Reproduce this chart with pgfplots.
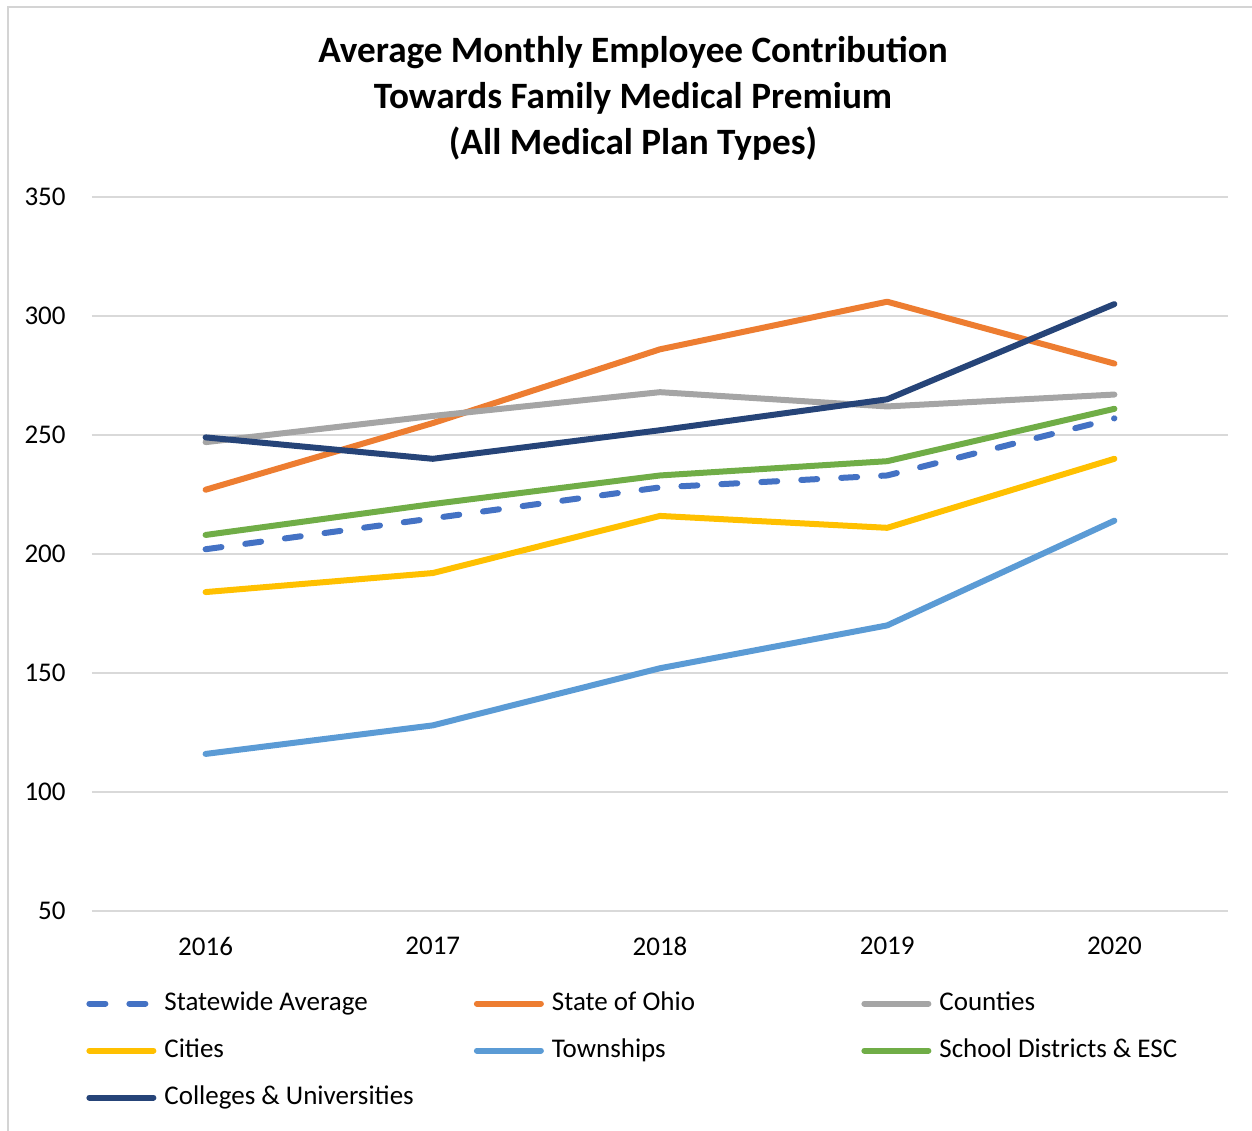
\documentclass[border=0pt]{standalone}
\usepackage{pgfplots}
\pgfplotsset{compat=1.18}
\usepackage{fontspec}
\setmainfont{Carlito}
\definecolor{cStat}{HTML}{4472C4}
\definecolor{cOhio}{HTML}{ED7D31}
\definecolor{cCounty}{HTML}{A5A5A5}
\definecolor{cCity}{HTML}{FFC000}
\definecolor{cTown}{HTML}{5B9BD5}
\definecolor{cSchool}{HTML}{70AD47}
\definecolor{cColl}{HTML}{264478}
\definecolor{gridGray}{HTML}{D9D9D9}
\definecolor{frameGray}{HTML}{D4D4D4}
\newcommand{\lab}{\fontsize{13.5pt}{16.2pt}\selectfont}
\newcommand{\ttl}{\fontsize{18.6pt}{23pt}\selectfont\bfseries}
\newcommand{\legtxt}[1]{\makebox[154.75pt][l]{\strut #1}}
\begin{document}
\begin{tikzpicture}
\useasboundingbox (-46pt,-109.5pt) rectangle (580pt,455.5pt);
\draw[color=frameGray, line width=1pt] (-42pt,-110pt) -- (-42pt,452pt) -- (581pt,452pt);
\node[anchor=base, inner sep=0pt, font=\ttl] at (270.5pt,424.25pt) {Average Monthly Employee Contribution};
\node[anchor=base, inner sep=0pt, font=\ttl] at (270.5pt,401.25pt) {Towards Family Medical Premium};
\node[anchor=base, inner sep=0pt, font=\ttl] at (270.5pt,378.25pt) {(All Medical Plan Types)};
\begin{axis}[
  scale only axis, width=568pt, height=357pt,
  xmin=-0.5, xmax=4.5, ymin=50, ymax=350,
  xtick={0,1,2,3,4}, xticklabels={2016,2017,2018,2019,2020},
  ytick={50,100,150,200,250,300,350},
  axis line style={draw=none},
  major tick length=0pt, tick style={draw=none},
  ymajorgrids, grid style={gridGray, line width=1pt},
  tick label style={font=\lab, inner sep=0pt},
  yticklabel style={anchor=east, xshift=-13pt},
  xticklabel style={anchor=north, yshift=-13pt},
  /pgf/number format/assume math mode=true,
  clip=false,
  every axis plot/.append style={line width=3pt, line cap=round, line join=round},
  legend columns=3,
  legend cell align=left,
  legend style={draw=none, fill=none, inner sep=0pt, at={(0,0)}, anchor=north west,
    xshift=-3pt, yshift=-38pt, font=\lab,
    nodes={inner sep=0pt, text depth=}, column sep=0pt, row sep=7.3pt},
  legend image code/.code={\draw[#1, line width=3pt, line cap=round] (0pt,0pt) -- (32pt,0pt); \path (36pt,0pt);},
]
\addplot[cStat, dash pattern=on 8pt off 12pt] coordinates {(0,202) (1,215) (2,228) (3,233) (4,257)};
\addlegendentry{\legtxt{Statewide Average}}
\addplot[cOhio] coordinates {(0,227) (1,255) (2,286) (3,306) (4,280)};
\addlegendentry{\legtxt{State of Ohio}}
\addplot[cCounty] coordinates {(0,247) (1,258) (2,268) (3,262) (4,267)};
\addlegendentry{\legtxt{Counties}}
\addplot[cCity] coordinates {(0,184) (1,192) (2,216) (3,211) (4,240)};
\addlegendentry{\legtxt{Cities}}
\addplot[cTown] coordinates {(0,116) (1,128) (2,152) (3,170) (4,214)};
\addlegendentry{\legtxt{Townships}}
\addplot[cSchool] coordinates {(0,208) (1,221) (2,233) (3,239) (4,261)};
\addlegendentry{\legtxt{School Districts \& ESC}}
\addplot[cColl] coordinates {(0,249) (1,240) (2,252) (3,265) (4,305)};
\addlegendentry{\legtxt{Colleges \& Universities}}
\end{axis}
\end{tikzpicture}
\end{document}
